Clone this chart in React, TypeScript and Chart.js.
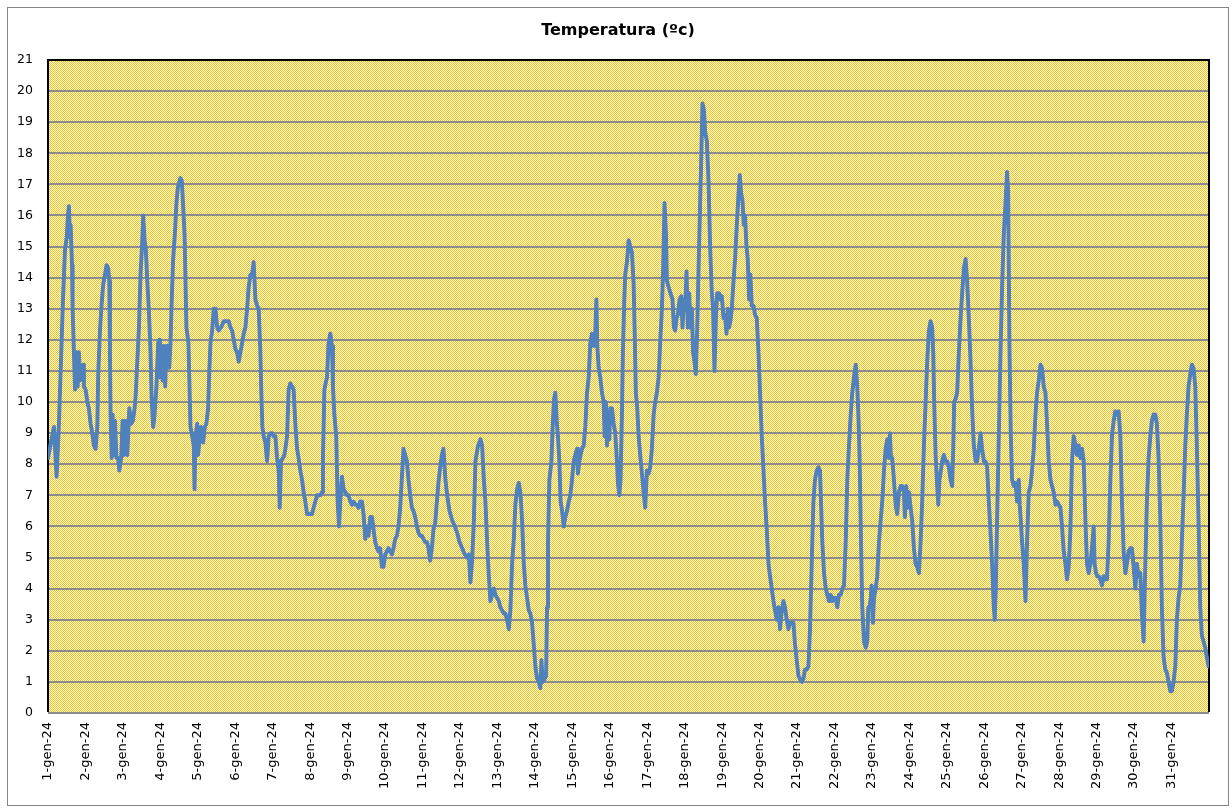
import React, { useEffect, useRef } from 'react';
import { Chart, registerables } from 'chart.js';

Chart.register(...registerables);

const chartTitle = 'Temperatura (ºc)';

const dayLabels = [
  '1-gen-24', '2-gen-24', '3-gen-24', '4-gen-24', '5-gen-24', '6-gen-24', '7-gen-24', '8-gen-24',
  '9-gen-24', '10-gen-24', '11-gen-24', '12-gen-24', '13-gen-24', '14-gen-24', '15-gen-24', '16-gen-24',
  '17-gen-24', '18-gen-24', '19-gen-24', '20-gen-24', '21-gen-24', '22-gen-24', '23-gen-24', '24-gen-24',
  '25-gen-24', '26-gen-24', '27-gen-24', '28-gen-24', '29-gen-24', '30-gen-24', '31-gen-24',
];

// hours since 1 Jan 00:00 (first third of the month)
const hoursA = [
  0.0, 3.8, 5.5, 7.0, 8.5, 9.6, 10.9, 12.0, 12.8, 13.4,
  14.1, 14.5, 15.4, 15.8, 16.6, 17.3, 18.3, 19.0, 19.8, 20.5,
  21.5, 22.6, 23.0, 24.1, 25.2, 26.2, 27.3, 28.4, 29.4, 30.5,
  31.6, 32.2, 33.3, 34.3, 35.4, 36.5, 37.5, 38.6, 39.3, 39.7,
  40.1, 40.8, 41.4, 42.2, 42.9, 43.9, 45.0, 45.7, 46.9, 47.8,
  48.6, 49.5, 50.8, 52.1, 53.3, 54.4, 55.5, 56.3, 57.2, 58.2,
  59.3, 60.4, 61.0, 61.9, 62.7, 63.6, 64.6, 65.7, 66.4, 67.4,
  68.3, 69.5, 70.6, 71.3, 71.7, 72.5, 73.4, 74.2, 75.1, 75.9,
  76.8, 77.7, 78.5, 79.1, 80.2, 81.3, 82.3, 83.2, 84.3, 84.9,
  85.8, 86.6, 87.5, 88.7, 90.0, 91.3, 92.4, 93.4, 93.9, 94.5,
  95.6, 96.2, 97.3, 98.1, 99.4, 100.5, 101.5, 102.6, 103.3, 104.1,
  105.2, 106.2, 107.3, 108.4, 109.4, 110.9, 112.6, 114.4, 115.8, 116.9,
  118.0, 119.0, 120.1, 121.2, 122.2, 123.3, 124.4, 125.4, 126.5, 127.6,
  128.6, 129.7, 130.8, 131.8, 132.9, 134.0, 135.0, 136.1, 136.7, 137.4,
  138.2, 139.3, 140.4, 141.4, 142.5, 143.6, 144.6, 145.7, 146.8, 147.8,
  148.5, 149.3, 150.6, 151.5, 152.1, 153.2, 154.2, 155.3, 156.4, 157.4,
  158.5, 159.6, 160.6, 161.7, 162.8, 163.8, 164.9, 166.0, 167.0, 168.1,
  169.2, 170.2, 171.3, 172.4, 173.4, 174.5, 175.6, 176.2, 177.1, 177.9,
  178.8, 179.8, 180.9, 182.0, 182.6, 183.5, 184.7, 185.6, 186.5, 187.3,
  188.4, 189.4, 190.5, 191.6, 192.6, 193.7, 194.8, 195.8, 196.9, 198.0,
  199.0, 200.1, 201.2, 202.2, 203.3, 204.4, 205.4, 206.5, 207.6, 208.6,
  209.7, 210.8, 211.8, 212.9, 214.0, 215.0, 216.1, 217.2, 218.2, 219.3,
  220.4, 221.4, 222.5, 223.6, 224.6, 225.7, 226.8, 227.8, 228.9, 230.0,
  231.0, 232.1, 233.2, 234.2, 235.3, 236.4, 237.4, 238.5, 239.6, 240.6,
  241.7, 242.8, 243.8, 244.9, 246.0, 247.0, 248.1, 249.2, 250.2, 251.3,
  252.4, 253.4,
];
const tempsA = [
  8.2, 9.2, 7.6, 9.3, 11.6, 13.3, 14.9, 15.3, 16.0, 16.3,
  15.3, 15.7, 14.4, 13.0, 11.6, 10.4, 11.6, 10.5, 11.6, 10.7,
  11.1, 11.2, 10.5, 10.4, 10.0, 9.8, 9.3, 9.0, 8.6, 8.5,
  9.2, 10.9, 12.3, 13.1, 13.8, 14.1, 14.4, 14.3, 13.9, 11.6,
  9.6, 8.2, 9.6, 8.3, 9.4, 8.2, 8.2, 7.8, 8.2, 9.4,
  8.3, 9.4, 8.3, 9.8, 9.3, 9.4, 9.8, 10.3, 11.3, 12.3,
  14.1, 15.2, 16.0, 15.2, 14.9, 13.9, 13.0, 11.6, 10.1, 9.2,
  9.6, 10.5, 11.9, 12.0, 10.8, 11.8, 10.7, 11.8, 10.5, 11.8,
  11.8, 11.1, 11.9, 13.0, 14.6, 15.4, 16.4, 16.9, 17.1, 17.2,
  17.1, 16.3, 15.4, 12.4, 11.9, 9.2, 8.9, 8.6, 7.2, 8.9,
  9.3, 8.3, 8.9, 9.2, 8.7, 9.2, 9.3, 9.8, 10.9, 11.9,
  12.3, 13.0, 13.0, 12.4, 12.3, 12.4, 12.6, 12.6, 12.6, 12.4,
  12.3, 12.0, 11.7, 11.6, 11.3, 11.6, 11.9, 12.2, 12.4, 13.0,
  13.7, 14.1, 14.1, 14.5, 13.3, 13.1, 13.0, 11.6, 10.3, 9.2,
  8.9, 8.7, 8.1, 8.9, 9.0, 9.0, 8.9, 8.9, 8.2, 7.8,
  6.6, 8.1, 8.2, 8.3, 8.5, 8.9, 10.4, 10.6, 10.5, 10.4,
  9.3, 8.5, 8.2, 7.8, 7.5, 7.1, 6.8, 6.4, 6.4, 6.4,
  6.4, 6.6, 6.8, 7.0, 7.0, 7.0, 7.1, 8.2, 10.4, 10.6,
  10.8, 11.9, 12.2, 11.8, 10.5, 9.6, 8.9, 6.8, 6.0, 6.8,
  7.6, 7.2, 7.1, 7.0, 7.0, 6.8, 6.7, 6.8, 6.7, 6.7,
  6.6, 6.8, 6.8, 6.4, 5.6, 6.0, 5.7, 6.3, 6.3, 5.9,
  5.5, 5.3, 5.2, 5.3, 4.7, 4.7, 5.1, 5.2, 5.3, 5.2,
  5.1, 5.3, 5.6, 5.7, 6.0, 6.6, 7.6, 8.5, 8.3, 8.1,
  7.5, 7.0, 6.6, 6.5, 6.3, 6.0, 5.8, 5.7, 5.7, 5.6,
  5.5, 5.5, 5.3, 4.9, 5.3, 5.9, 6.1, 6.8, 7.4, 7.9,
  8.3, 8.5,
];

// second third of the month
const hoursB = [
  254.7, 255.8, 257.3, 259.0, 260.7, 262.2, 263.7, 265.4, 267.1, 268.6,
  269.7, 270.7, 271.8, 272.9, 273.9, 275.6, 277.1, 278.2, 279.3, 280.3,
  281.4, 282.5, 283.5, 284.6, 285.7, 286.7, 287.8, 288.9, 289.9, 291.0,
  292.1, 293.1, 294.2, 295.3, 296.3, 297.4, 298.5, 299.5, 300.6, 301.7,
  302.7, 303.8, 304.9, 305.9, 307.0, 308.1, 309.1, 310.2, 311.3, 312.3,
  313.4, 314.5, 315.5, 316.2, 317.0, 318.3, 319.2, 319.8, 320.4, 321.3,
  322.6, 323.4, 324.3, 325.1, 326.0, 326.8, 327.7, 328.5, 329.4, 330.5,
  331.5, 332.6, 333.7, 334.7, 335.8, 336.9, 337.9, 339.0, 339.6, 340.5,
  341.3, 342.2, 343.3, 344.3, 345.4, 346.5, 347.5, 348.6, 349.7, 350.7,
  351.4, 352.0, 352.9, 353.9, 355.0, 356.1, 356.7, 357.5, 358.2, 358.8,
  359.7, 360.3, 361.4, 362.5, 363.5, 364.6, 365.2, 366.1, 366.9, 367.8,
  368.4, 369.3, 369.9, 371.0, 372.1, 373.1, 374.2, 375.3, 375.9, 376.7,
  377.6, 378.5, 379.5, 380.6, 381.7, 382.7, 383.8, 384.9, 385.9, 387.0,
  388.1, 389.1, 390.2, 391.3, 392.3, 393.4, 394.2, 395.1, 396.0, 396.6,
  397.7, 398.9, 400.2, 401.1, 401.9, 402.8, 403.6, 404.7, 405.8, 406.6,
  407.5, 408.3, 409.2, 410.0, 410.9, 411.7, 412.6, 413.4, 414.3, 415.1,
  416.0, 416.9, 417.9, 418.6, 419.4, 420.3, 421.1, 422.2, 423.3, 424.3,
  425.4, 426.2, 427.1, 428.0, 428.8, 430.1, 430.9, 431.8, 432.9, 433.9,
  434.8, 435.6, 436.5, 437.3, 438.2, 439.3, 440.3, 441.4, 442.5, 443.3,
  444.2, 445.0, 445.9, 446.7, 447.6, 448.4, 449.3, 450.1, 451.0, 452.1,
  453.1, 454.2, 455.3, 456.3, 457.4, 458.5, 459.5, 460.6, 461.7, 462.7,
  463.8, 464.9, 465.9, 467.0, 468.1, 469.1, 470.2, 471.3, 472.3, 473.4,
  474.5, 475.5, 476.6, 477.7, 478.7, 479.8, 480.9, 481.9, 483.0, 484.1,
  485.1, 486.2, 487.3, 488.3, 489.4, 490.5, 491.5, 492.6, 493.7, 494.7,
];
const tempsB = [
  7.5, 7.0, 6.5, 6.2, 6.0, 5.8, 5.5, 5.3, 5.1, 5.0,
  5.1, 4.2, 4.9, 6.2, 8.1, 8.6, 8.8, 8.6, 7.5, 6.8,
  5.5, 4.4, 3.6, 3.8, 4.0, 3.8, 3.7, 3.6, 3.4, 3.3,
  3.2, 3.2, 3.0, 2.7, 3.3, 4.8, 5.6, 6.7, 7.2, 7.4,
  7.1, 6.2, 4.8, 4.1, 3.7, 3.3, 3.2, 2.9, 2.2, 1.5,
  1.1, 1.0, 0.8, 1.7, 1.0, 1.1, 1.2, 3.4, 5.5, 7.5,
  8.1, 9.2, 10.1, 10.3, 9.4, 8.9, 8.1, 6.8, 6.5, 6.0,
  6.3, 6.5, 6.8, 7.0, 7.5, 8.1, 8.3, 8.5, 7.7, 8.1,
  8.3, 8.5, 8.6, 9.2, 10.3, 10.8, 11.9, 12.2, 11.8, 12.2,
  13.3, 11.8, 11.1, 10.8, 10.3, 10.0, 8.9, 10.0, 8.6, 9.7,
  8.8, 9.8, 9.8, 9.3, 9.0, 8.1, 7.4, 7.0, 7.5, 9.6,
  11.6, 13.3, 14.1, 14.5, 15.2, 15.0, 14.8, 13.8, 12.4, 10.3,
  9.8, 8.9, 8.3, 7.7, 7.1, 6.6, 7.8, 7.7, 7.9, 8.5,
  9.6, 10.0, 10.3, 10.8, 11.9, 13.0, 14.3, 16.4, 15.4, 13.9,
  13.7, 13.5, 13.3, 12.4, 12.3, 12.7, 12.8, 13.3, 13.4, 12.4,
  13.3, 13.0, 14.2, 12.4, 13.5, 12.4, 13.0, 11.6, 11.3, 10.9,
  12.3, 14.3, 16.4, 17.8, 19.6, 19.4, 18.7, 18.4, 17.1, 15.0,
  13.5, 13.0, 11.0, 12.7, 13.5, 13.5, 13.3, 13.4, 12.7, 12.8,
  12.2, 13.0, 12.4, 12.6, 13.0, 13.9, 14.6, 15.7, 16.7, 17.3,
  16.7, 16.5, 15.7, 16.0, 15.0, 14.6, 13.3, 14.1, 13.1, 13.1,
  12.8, 12.7, 11.6, 10.3, 8.9, 7.8, 6.8, 5.9, 4.8, 4.4,
  4.0, 3.6, 3.3, 3.0, 3.4, 2.7, 3.3, 3.6, 3.4, 3.0,
  2.7, 2.9, 2.9, 2.9, 2.2, 1.7, 1.2, 1.1, 1.0, 1.1,
  1.4, 1.4, 1.5, 2.7, 4.8, 6.8, 7.5, 7.8, 7.9, 7.8,
];

// last third of the month
const hoursC = [
  496.2, 497.3, 498.4, 499.4, 500.5, 501.6, 502.6, 503.7, 504.8, 505.8,
  506.9, 508.0, 509.0, 510.1, 511.2, 512.2, 513.3, 514.4, 515.4, 516.5,
  517.6, 518.6, 519.3, 520.1, 521.0, 521.8, 522.9, 524.0, 525.0, 525.7,
  526.5, 527.2, 527.8, 528.6, 529.3, 530.4, 531.4, 532.5, 533.6, 534.6,
  535.7, 536.8, 537.8, 538.9, 539.5, 540.2, 541.0, 542.1, 543.2, 544.2,
  545.3, 546.4, 547.4, 548.5, 549.1, 550.0, 550.8, 551.7, 552.8, 553.8,
  554.9, 556.0, 557.0, 558.1, 559.2, 560.2, 561.3, 562.4, 563.4, 564.5,
  565.6, 566.6, 567.3, 567.9, 568.8, 569.8, 570.5, 571.3, 572.2, 573.0,
  574.1, 575.2, 576.2, 577.3, 578.4, 579.4, 580.1, 580.7, 581.6, 582.6,
  583.7, 584.8, 585.8, 586.9, 588.0, 589.0, 590.1, 591.2, 592.2, 593.3,
  594.4, 595.4, 596.5, 597.6, 598.6, 599.7, 600.8, 601.8, 602.9, 604.0,
  605.0, 606.1, 606.7, 607.4, 608.2, 609.3, 610.4, 611.4, 612.5, 613.6,
  614.6, 615.3, 616.1, 617.0, 617.8, 618.9, 620.0, 621.0, 622.1, 622.7,
  623.4, 624.2, 625.3, 626.4, 627.4, 628.5, 629.6, 630.6, 631.7, 632.8,
  633.8, 634.9, 636.0, 637.0, 638.1, 639.2, 640.2, 641.3, 642.4, 643.4,
  644.5, 645.6, 646.6, 647.7, 648.8, 649.8, 650.9, 652.0, 653.0, 654.1,
  655.2, 656.2, 657.3, 658.4, 659.4, 660.5, 661.6, 662.6, 663.7, 664.8,
  665.8, 666.9, 668.0, 669.0, 670.1, 670.7, 671.6, 672.4, 673.3, 674.4,
  675.4, 676.5, 677.6, 678.6, 679.7, 680.8, 681.8, 682.9, 684.0, 685.0,
  686.1, 687.2, 688.2, 689.3, 690.4, 691.4, 692.5, 693.6, 694.6, 695.7,
  696.8, 697.8, 698.9, 700.0, 701.0, 702.1, 703.2, 704.2, 705.3, 706.4,
  707.4, 708.5, 709.6, 710.6, 711.7, 712.8, 713.8, 714.9, 716.0, 717.0,
  718.1, 719.2, 720.2, 721.3, 722.4, 723.4, 724.5, 725.6, 726.6, 727.7,
  728.8, 729.8, 730.9, 732.0, 733.0, 734.1, 735.2, 736.2, 737.3, 738.4,
  739.4, 740.5, 741.6, 742.6, 743.7,
];
const tempsC = [
  5.5, 4.5, 4.0, 3.8, 3.6, 3.8, 3.6, 3.7, 3.7, 3.4,
  3.8, 3.8, 4.0, 4.1, 5.5, 7.5, 8.6, 9.6, 10.3, 10.8,
  11.2, 10.5, 9.6, 8.2, 5.5, 3.4, 2.3, 2.1, 2.3, 3.4,
  3.4, 3.7, 4.1, 2.9, 3.7, 4.0, 4.4, 5.5, 6.2, 6.8,
  7.8, 8.5, 8.8, 8.2, 9.0, 8.2, 8.2, 7.5, 6.7, 6.4,
  7.1, 7.3, 7.3, 7.1, 6.3, 7.3, 6.6, 7.1, 6.6, 6.2,
  5.3, 4.8, 4.7, 4.5, 5.5, 6.8, 8.6, 10.0, 11.3, 12.3,
  12.6, 12.4, 11.6, 10.0, 8.3, 7.3, 6.7, 7.5, 7.8, 8.1,
  8.3, 8.1, 8.1, 7.9, 7.5, 7.3, 8.5, 10.0, 10.1, 10.3,
  11.6, 12.7, 13.5, 14.3, 14.6, 13.9, 12.7, 11.3, 9.8, 8.6,
  8.1, 8.1, 8.5, 9.0, 8.5, 8.1, 8.1, 7.9, 6.8, 5.8,
  4.8, 3.4, 3.0, 4.1, 6.2, 8.9, 11.6, 13.7, 15.4, 16.4,
  17.4, 16.8, 11.9, 8.9, 7.5, 7.3, 7.4, 6.8, 7.5, 6.7,
  6.2, 5.5, 4.8, 3.6, 5.5, 7.1, 7.3, 7.8, 8.5, 9.6,
  10.3, 10.7, 11.2, 11.1, 10.5, 10.3, 9.3, 8.1, 7.5, 7.3,
  7.1, 6.7, 6.8, 6.7, 6.6, 6.0, 5.2, 4.8, 4.3, 4.7,
  5.9, 8.1, 8.9, 8.6, 8.3, 8.6, 8.2, 8.5, 8.1, 6.2,
  4.8, 4.5, 4.8, 5.3, 6.0, 4.8, 4.5, 4.4, 4.4, 4.3,
  4.1, 4.4, 4.3, 4.3, 5.5, 7.5, 8.9, 9.4, 9.7, 9.6,
  9.7, 8.9, 6.8, 5.2, 4.5, 4.8, 5.2, 5.3, 5.3, 4.7,
  4.0, 4.8, 4.4, 4.5, 3.2, 2.3, 4.8, 6.8, 8.2, 8.9,
  9.4, 9.6, 9.6, 9.3, 8.2, 6.2, 3.4, 1.8, 1.4, 1.3,
  1.0, 0.7, 0.7, 1.0, 1.5, 3.0, 3.7, 4.1, 5.5, 7.0,
  8.6, 9.6, 10.5, 10.9, 11.2, 11.1, 10.5, 8.6, 6.2, 3.4,
  2.5, 2.3, 2.1, 1.8, 1.5,
];

const readingHours = [...hoursA, ...hoursB, ...hoursC];
const temperatures = [...tempsA, ...tempsB, ...tempsC];

const W = 1232;
const H = 809;

export default function App() {
  const ref = useRef<HTMLCanvasElement>(null);

  useEffect(() => {
    const canvas = ref.current;
    if (!canvas) return;
    const ctx0 = canvas.getContext('2d')!;

    const pc = document.createElement('canvas');
    pc.width = 2;
    pc.height = 2;
    const p = pc.getContext('2d')!;
    p.fillStyle = '#ffffff';
    p.fillRect(0, 0, 2, 2);
    p.fillStyle = '#ffc000';
    p.fillRect(0, 0, 1, 1);
    p.fillRect(1, 1, 1, 1);
    const pattern = ctx0.createPattern(pc, 'repeat');

    const framePlugin = {
      id: 'frame',
      beforeDraw(chart: any) {
        const { ctx, chartArea: a } = chart;
        ctx.save();
        ctx.fillStyle = '#ffffff';
        ctx.fillRect(0, 0, chart.width, chart.height);
        ctx.strokeStyle = '#868686';
        ctx.lineWidth = 1;
        ctx.strokeRect(7.5, 7.5, 1221, 798);
        if (pattern) {
          ctx.fillStyle = pattern;
          ctx.fillRect(a.left, a.top, a.right - a.left, a.bottom - a.top);
        }
        ctx.fillStyle = '#000000';
        ctx.font = 'bold 16px "DejaVu Sans"';
        ctx.textAlign = 'center';
        ctx.textBaseline = 'alphabetic';
        ctx.fillText(chartTitle, 618, 35);
        ctx.restore();
      },
      beforeDatasetsDraw(chart: any) {
        const { ctx, chartArea: a } = chart;
        ctx.save();
        ctx.strokeStyle = '#000000';
        ctx.lineWidth = 2;
        ctx.beginPath();
        ctx.moveTo(a.left, a.bottom - 1);
        ctx.lineTo(a.left, a.top);
        ctx.lineTo(a.right, a.top);
        ctx.lineTo(a.right, a.bottom - 1);
        ctx.stroke();
        ctx.restore();
      },
    };

    const chart = new Chart(canvas, {
      type: 'line',
      data: {
        datasets: [
          {
            label: chartTitle,
            data: readingHours.map((h, i) => ({ x: h, y: temperatures[i] })),
            borderColor: '#4f81bd',
            borderWidth: 4,
            pointRadius: 0,
            tension: 0,
            borderJoinStyle: 'round',
            borderCapStyle: 'round',
            fill: false,
          },
        ],
      },
      options: {
        responsive: false,
        animation: false,
        layout: { padding: { left: 8, right: 23, top: 60, bottom: 0 } },
        plugins: {
          legend: { display: false },
          title: { display: false },
          tooltip: { enabled: false },
        },
        scales: {
          x: {
            type: 'linear',
            min: 0,
            max: 744,
            afterBuildTicks: (s: any) => {
              s.ticks = dayLabels.map((_, i) => ({ value: i * 24 }));
            },
            afterFit: (s: any) => {
              s.height = 96;
            },
            ticks: {
              autoSkip: false,
              maxRotation: 90,
              minRotation: 90,
              padding: 9,
              color: '#000000',
              font: { family: 'DejaVu Sans', size: 13 },
              callback: (_v: any, i: number) => dayLabels[i],
            },
            grid: { display: false, drawTicks: false },
            border: { display: false },
          },
          y: {
            min: 0,
            max: 21,
            afterFit: (s: any) => {
              s.width = 40;
            },
            ticks: {
              stepSize: 1,
              padding: 15,
              color: '#000000',
              font: { family: 'DejaVu Sans', size: 12.5 },
            },
            grid: { color: '#8c8c8c', lineWidth: 2, drawTicks: false },
            border: { display: false },
          },
        },
      },
      plugins: [framePlugin],
    } as any);

    return () => chart.destroy();
  }, []);

  return (
    <div style={{ position: 'fixed', left: 0, top: 0, width: W, height: H, background: '#fff' }}>
      <canvas ref={ref} width={W} height={H} style={{ display: 'block', width: W, height: H }} />
    </div>
  );
}
